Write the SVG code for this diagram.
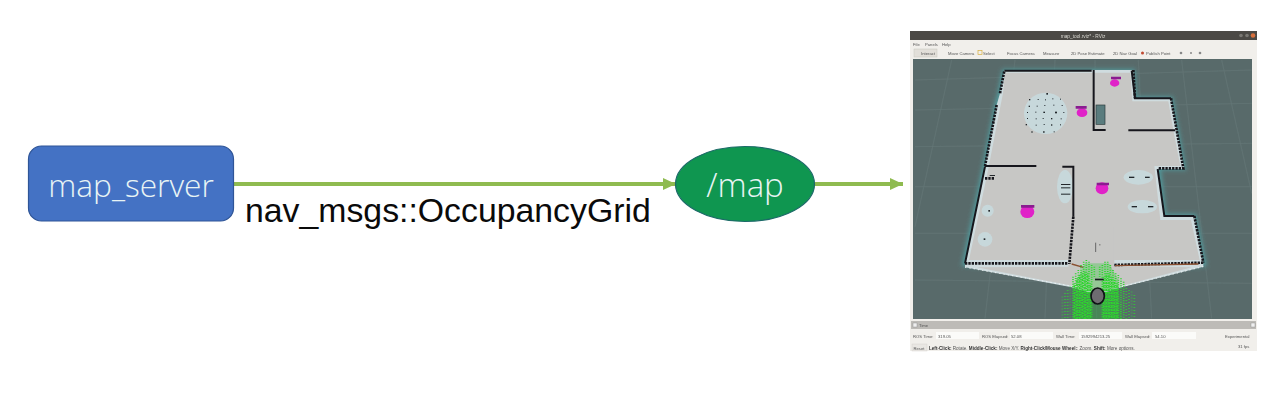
<svg xmlns="http://www.w3.org/2000/svg" width="1280" height="404" viewBox="0 0 1280 404">
<style>
.lbl{font-family:"Open Sans","Noto Sans",sans-serif;font-weight:300;font-size:31.700px;fill:#e8f4f4;text-anchor:middle}
.edge{stroke:#8fbb50;stroke-width:4;fill:none}
.ui{font-family:"Liberation Sans",sans-serif;font-size:4.200px;fill:#555}
.hint{font-family:"Liberation Sans",sans-serif;font-size:4.600px;fill:#555}
.uib{font-family:"Liberation Sans",sans-serif;font-size:4.600px;fill:#333;font-weight:bold}
.wall{stroke:#17171c;stroke-width:6;fill:none}
.rough{stroke:#17171c;stroke-width:8;fill:none;stroke-dasharray:7 3}
.grid{stroke:#6d8080;stroke-width:2;fill:none;opacity:.55}
.bot{fill:#e020c8}
.tag{stroke:#8a1a90;stroke-width:8}
.p{stroke:#2fd62f;stroke-width:5;fill:none}
.obs{fill:#20262a}
</style>
<defs>
<marker id="head" markerUnits="userSpaceOnUse" markerWidth="13" markerHeight="12" refX="13" refY="6" orient="auto"><path d="M0 0L13 6L0 12Z" fill="#8fbb50"/></marker>
<filter id="soft" x="-2%" y="-2%" width="104%" height="104%"><feGaussianBlur stdDeviation="0.4"/></filter>
<filter id="glow" x="-5%" y="-5%" width="110%" height="110%"><feGaussianBlur stdDeviation="6"/></filter>
</defs>
<rect width="1280" height="404" fill="#ffffff"/>
<g id="connectors">
<line class="edge" x1="234" y1="184" x2="676" y2="184" marker-end="url(#head)"/>
<line class="edge" x1="815" y1="184" x2="903" y2="184" marker-end="url(#head)"/>
</g>
<g id="map_server">
<rect x="28.500" y="146" width="205" height="75" rx="13" fill="#4472c4" stroke="#2f5597" stroke-width="1.200"/>
<text class="lbl" x="131" y="197">map_server</text>
</g>
<text x="245" y="222" font-family="'Liberation Sans',Arial,sans-serif" font-size="33.800" fill="#0a0a0a">nav_msgs::OccupancyGrid</text>
<g id="map_topic">
<ellipse cx="745" cy="184" rx="69.500" ry="37.500" fill="#0f9650" stroke="#1c6a68" stroke-width="1.200"/>
<text class="lbl" x="745" y="197" style="font-size:33px">/map</text>
</g>
<g id="rviz" filter="url(#soft)">
<rect x="910" y="31" width="347" height="320" fill="#f1efeb"/>
<rect x="910" y="31" width="347" height="9" fill="#4b4945"/>
<circle cx="1253" cy="35.500" r="2.300" fill="#d8703c"/>
<circle cx="1247" cy="35.500" r="1.800" fill="#7a7873"/>
<circle cx="1241" cy="35.500" r="1.800" fill="#7a7873"/>
<text x="1083" y="37.500" text-anchor="middle" font-family="'Liberation Sans',sans-serif" font-size="4.800" fill="#d8d6d0">map_tool.rviz* - RViz</text>
<text class="ui" x="913" y="46">File</text><text class="ui" x="925" y="46">Panels</text><text class="ui" x="942" y="46">Help</text>
<rect x="914" y="49" width="23" height="8" fill="#e2dfd9" stroke="#c8c5bf" stroke-width="0.500"/>
<text class="ui" x="921" y="54.800">Interact</text><text class="ui" x="948" y="54.800">Move Camera</text><text class="ui" x="983" y="54.800">Select</text><text class="ui" x="1007" y="54.800">Focus Camera</text><text class="ui" x="1043" y="54.800">Measure</text><text class="ui" x="1071" y="54.800">2D Pose Estimate</text><text class="ui" x="1113" y="54.800">2D Nav Goal</text><text class="ui" x="1146" y="54.800">Publish Point</text>
<rect x="978" y="50.500" width="4" height="4" fill="none" stroke="#d8b040" stroke-width="0.700"/>
<circle cx="1142.500" cy="53" r="1.500" fill="#c04830"/>
<circle cx="1181" cy="53" r="1.300" fill="#888"/><circle cx="1191" cy="53" r="1" fill="#888"/><circle cx="1200" cy="53" r="1.300" fill="#888"/>
<svg x="913" y="59" width="339" height="260" viewBox="0 0 1017 780">
<rect width="1017" height="780" fill="#596b6b"/>
<g id="viewport" transform="translate(-24 3)">
<g class="grid">
<path d="M30 60L1040 30M30 150L1040 130M30 260L1040 250M30 380L1040 380M30 520L1040 520M30 660L1040 670"/>
<path d="M140 0L30 500M330 0L240 775M450 0L420 775M570 0L575 775M700 0L740 775M830 0L920 775M950 0L1040 400"/>
</g>
<path d="M292 28H690L695 110H803L820 205L843 330L768 330L783 462H873L905 618L650 640L570 640L170 618L232 320L268 135L278 100Z" fill="#4f9a9c" filter="url(#glow)"/>
<path d="M298 30H685L690 115H798L815 210L838 327L760 327L778 468L868 468L895 610V620L650 682L575 705L500 682L180 622V610L240 320L275 135L285 100Z" fill="#cfdcdf"/>
<path d="M300 38H676L682 124H790L806 216L826 318H748L766 480H858L884 600H628L628 618L860 622L650 678L575 700L505 678L215 622L490 620L490 600H192L250 326L284 150L294 100Z" fill="#c7c7c5"/>
<path d="M495 500H625V690H520Z" fill="#c7c7c5"/>
<g fill="#c8dce0" opacity=".85"><ellipse cx="422" cy="160" rx="65" ry="62"/><circle cx="240" cy="538" r="22"/><circle cx="248" cy="452" r="18"/><ellipse cx="700" cy="352" rx="44" ry="22"/><ellipse cx="712" cy="440" rx="44" ry="20"/><ellipse cx="480" cy="380" rx="24" ry="50"/></g>
<rect x="573" y="135" width="27" height="58" fill="#5a7b7e" stroke="#2a3a3a" stroke-width="2"/>
<path class="wall" d="M298 32H560M566 30V210H602M680 32L690 115H798M670 211H810M240 318H394M472 320H505V470M758 327L778 468H868M180 610L240 320"/>
<path class="rough" d="M285 100L298 32M275 135L240 318M798 115L815 210L835 325H760M868 468L895 608M505 470L493 612M180 610H490M628 615L895 608M685 30L690 115M240 355H270"/>
<path d="M500 612L535 622M630 617L880 612" stroke="#8a5030" stroke-width="4" fill="none"/>
<path d="M180 622L520 682M895 620L650 680" stroke="#ffffff" stroke-width="3" stroke-dasharray="4 9" fill="none" opacity=".7"/>
<g class="obs"><rect x="424" y="99" width="5" height="5"/><rect x="372" y="117" width="4" height="4"/><rect x="398" y="117" width="3" height="3"/><rect x="420" y="118" width="3" height="3"/><rect x="442" y="115" width="3" height="3"/><rect x="465" y="116" width="3" height="3"/><rect x="371" y="137" width="4" height="4"/><rect x="395" y="137" width="3" height="3"/><rect x="418" y="135" width="3" height="3"/><rect x="445" y="134" width="3" height="3"/><rect x="470" y="135" width="3" height="3"/><rect x="366" y="156" width="3" height="3"/><rect x="391" y="155" width="3" height="3"/><rect x="415" y="155" width="5" height="4"/><rect x="450" y="155" width="6" height="5"/><rect x="475" y="156" width="3" height="3"/><rect x="366" y="174" width="3" height="3"/><rect x="392" y="175" width="3" height="3"/><rect x="413" y="174" width="3" height="3"/><rect x="438" y="174" width="4" height="4"/><rect x="467" y="175" width="3" height="3"/><rect x="362" y="192" width="4" height="4"/><rect x="392" y="194" width="3" height="3"/><rect x="416" y="192" width="3" height="3"/><rect x="438" y="193" width="4" height="4"/><rect x="465" y="193" width="3" height="3"/><rect x="379" y="214" width="4" height="4"/><rect x="414" y="214" width="5" height="4"/><rect x="446" y="214" width="3" height="3"/><rect x="672" y="350" width="16" height="4"/><rect x="720" y="350" width="14" height="4"/><rect x="680" y="438" width="16" height="4"/><rect x="729" y="438" width="16" height="4"/><rect x="468" y="372" width="28" height="3"/><rect x="468" y="382" width="28" height="3"/><rect x="468" y="401" width="28" height="3"/><rect x="250" y="450" width="5" height="5"/><rect x="236" y="535" width="5" height="5"/><rect x="254" y="345" width="16" height="3"/></g>
<g id="particles">
<path d="M540 610H612L640 660L650 785H505L515 660Z" fill="#22c82a" opacity=".3"/>
<path class="p" stroke-dasharray="2 7" d="M472 710V785M480 700V785M488 690V785M496 680V785M664 685V785M672 690V785M680 695V785M688 705V785"/>
<path class="p" stroke-dasharray="3 4" d="M504 650V785M512 640V785M520 630V785M528 615V785M536 605V785M544 600V785M552 605V785M560 615V785M568 620V650M584 620V650M592 615V785M600 605V785M608 605V785M616 615V785M624 630V785M632 640V785M640 645V785M648 655V785M656 665V785"/>
<path class="p" stroke-dasharray="7 3" stroke-dashoffset="4" d="M508 670V785M516 655V785M524 645V785M532 640V785M540 635V785M548 640V785M556 670V785M596 650V785M604 640V785M612 640V785M620 650V785M628 660V785M636 670V785"/>
</g>
<g class="bot"><ellipse cx="629" cy="69" rx="14" ry="11"/><ellipse cx="531" cy="158" rx="16" ry="13"/><ellipse cx="591" cy="385" rx="19" ry="18"/><ellipse cx="367" cy="455" rx="21" ry="19"/></g>
<g class="tag"><path d="M618 54H648M512 142H545M575 372H612M348 439H388"/></g>
<path d="M572 548V576" stroke="#666" stroke-width="3"/><rect x="583" y="553" width="3" height="3" fill="#444"/>
<rect x="570" y="656" width="26" height="5" fill="#15181a"/>
<ellipse cx="578" cy="708" rx="20" ry="24" fill="#6e6c70" stroke="#101214" stroke-width="5"/>
</g>
</svg>
<rect x="911" y="321" width="345" height="8" fill="#bdbbb7"/>
<rect x="913" y="323" width="4" height="4" fill="#efefef" stroke="#888" stroke-width=".4"/>
<rect x="1251" y="323" width="4" height="4" fill="#efefef" stroke="#888" stroke-width=".4"/>
<text class="ui" x="919" y="327">Time</text>
<text class="ui" x="913" y="337.500">ROS Time:</text><rect x="936" y="332" width="43" height="7" fill="#fbfbf9"/><text class="ui" x="938" y="337.500">319.05</text>
<text class="ui" x="982" y="337.500">ROS Elapsed:</text><rect x="1010" y="332" width="43" height="7" fill="#fbfbf9"/><text class="ui" x="1011" y="337.500">52.08</text>
<text class="ui" x="1056" y="337.500">Wall Time:</text><rect x="1079" y="332" width="43" height="7" fill="#fbfbf9"/><text class="ui" x="1081" y="337.500">1592994213.25</text>
<text class="ui" x="1125" y="337.500">Wall Elapsed:</text><rect x="1152" y="332" width="44" height="7" fill="#fbfbf9"/><text class="ui" x="1155" y="337.500">54.10</text>
<text class="ui" x="1225" y="337.500">Experimental</text>
<rect x="912" y="344" width="15" height="7" fill="#e9e7e3" stroke="#cfcdc8" stroke-width=".4"/>
<text class="ui" x="913.500" y="349.500">Reset</text>
<text x="929" y="349.500" class="hint"><tspan class="uib">Left-Click:</tspan> Rotate. <tspan class="uib">Middle-Click:</tspan> Move X/Y. <tspan class="uib">Right-Click/Mouse Wheel:</tspan>: Zoom. <tspan class="uib">Shift:</tspan> More options.</text>
<text class="ui" x="1238" y="348">31 fps</text>
</g>
</svg>
